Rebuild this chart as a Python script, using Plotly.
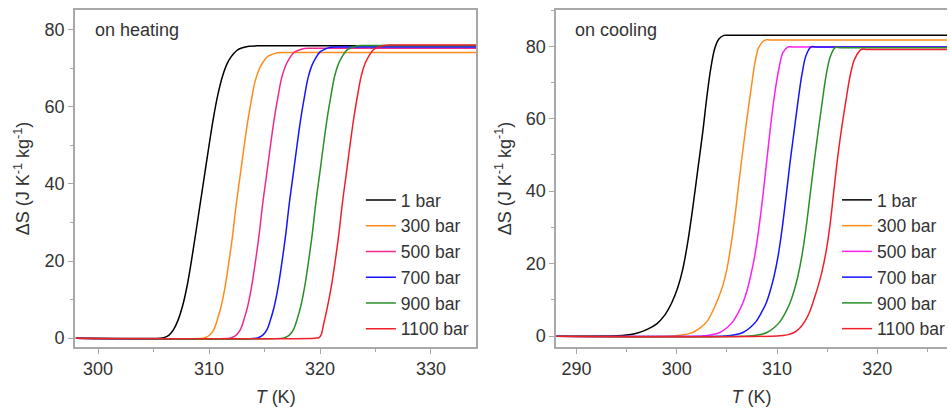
import plotly.graph_objects as go

# ---------------- data ----------------
labels = ["1 bar", "300 bar", "500 bar", "700 bar", "900 bar", "1100 bar"]
heat_colors = ["#000000", "#ff8c1a", "#f0288c", "#1414ff", "#2a8f2a", "#f0202a"]
cool_colors = ["#000000", "#ff8c1a", "#ff22ee", "#1414ff", "#2a8f2a", "#f0202a"]

# ---- on heating: T (K) and Delta S (J K-1 kg-1) ----
T_h_1 = [298, 305.6, 306.0, 306.4, 306.8, 307.2, 307.6, 308.0, 308.4, 308.8, 309.2, 309.6, 310.0, 310.4,
         310.8, 311.2, 311.6, 312.0, 312.5, 313.0, 313.6, 314.3, 315.0, 334.5]
S_h_1 = [0, 0, 0.2, 0.8, 2.2, 4.6, 8.2, 13.2, 19.8, 27.2, 34.8, 42.4, 50.0, 57.2,
         63.2, 67.8, 71.0, 73.0, 74.6, 75.3, 75.7, 75.8, 75.8, 75.8]
T_h_300 = [298, 309.42, 309.72, 310.07, 310.42, 310.72, 311.07, 311.42, 311.77, 312.12, 312.42, 312.77, 313.12,
           313.47, 313.82, 314.12, 314.47, 314.82, 315.22, 315.67, 316.17, 316.77, 317.37, 334.5]
S_h_300 = [0, 0, 0.22, 0.82, 2.15, 4.52, 8.0, 12.89, 19.34, 26.6, 34.01, 41.42, 48.91,
           55.95, 61.8, 66.25, 69.43, 71.36, 72.91, 73.58, 74.03, 74.1, 74.1, 74.1]
T_h_500 = [298, 311.82, 312.12, 312.47, 312.82, 313.12, 313.47, 313.82, 314.17, 314.52, 314.82, 315.17, 315.52,
           315.87, 316.22, 316.52, 316.87, 317.22, 317.62, 318.07, 318.57, 319.17, 319.77, 334.5]
S_h_500 = [0, 0, 0.23, 0.83, 2.18, 4.59, 8.12, 13.08, 19.63, 27.0, 34.52, 42.04, 49.63,
           56.78, 62.72, 67.23, 70.46, 72.42, 74.0, 74.67, 75.12, 75.2, 75.2, 75.2]
T_h_700 = [298, 314.22, 314.52, 314.87, 315.22, 315.52, 315.87, 316.22, 316.57, 316.92, 317.22, 317.57, 317.92,
           318.27, 318.62, 318.92, 319.27, 319.62, 320.02, 320.47, 320.97, 321.57, 322.17, 334.5]
S_h_700 = [0, 0, 0.23, 0.83, 2.19, 4.61, 8.15, 13.14, 19.71, 27.1, 34.65, 42.2, 49.83,
           57.0, 62.97, 67.5, 70.74, 72.71, 74.29, 74.97, 75.42, 75.5, 75.5, 75.5]
T_h_900 = [298, 316.61, 316.91, 317.26, 317.61, 317.91, 318.26, 318.61, 318.96, 319.31, 319.61, 319.96, 320.31,
           320.66, 321.01, 321.31, 321.66, 322.01, 322.41, 322.86, 323.36, 323.96, 324.56, 334.5]
S_h_900 = [0, 0, 0.23, 0.83, 2.2, 4.63, 8.2, 13.21, 19.81, 27.25, 34.84, 42.43, 50.09,
           57.3, 63.3, 67.85, 71.12, 73.09, 74.69, 75.37, 75.82, 75.9, 75.9, 75.9]
T_h_1100 = [298, 319.5, 319.91, 320.11, 320.31, 320.66, 321.01, 321.36, 321.71, 322.01, 322.36, 322.71, 323.06,
            323.41, 323.71, 324.06, 324.41, 324.81, 325.26, 325.76, 326.36, 326.96, 334.5]
S_h_1100 = [0, 0, 0.15, 0.91, 3.42, 7.98, 13.22, 19.84, 27.28, 34.88, 42.48, 50.16, 57.38,
            63.38, 67.94, 71.21, 73.19, 74.78, 75.47, 75.92, 76.0, 76.0, 76.0]

# ---- on cooling ----
T_c_1 = [288, 294.0, 295.0, 296.0, 297.0, 298.0, 298.8, 299.5, 300.1, 300.6, 301.1, 301.6, 302.1,
         302.6, 303.0, 303.4, 303.8, 304.2, 304.7, 305.3, 327.5]
S_c_1 = [0, 0.1, 0.3, 0.8, 1.8, 3.4, 5.8, 9.2, 13.4, 18.5, 26.0, 35.5, 46.0,
         56.5, 66.0, 74.0, 79.5, 82.0, 83.0, 83.0, 83.0]
T_c_300 = [288, 299.5, 300.5, 301.5, 302.3, 303.0, 303.6, 304.1, 304.6, 305.0, 305.4, 305.8, 306.2,
           306.6, 307.0, 307.4, 307.8, 308.2, 308.8, 309.4, 327.5]
S_c_300 = [0, 0.05, 0.3, 0.9, 2.2, 4.0, 7.0, 10.2, 14.0, 18.5, 25.0, 33.0, 42.5,
           51.5, 60.0, 68.0, 75.5, 79.8, 81.7, 81.7, 81.7]
T_c_500 = [288, 302.5, 303.5, 304.3, 305.0, 305.6, 306.1, 306.6, 307.0, 307.4, 307.8, 308.2, 308.6,
           309.0, 309.4, 309.8, 310.2, 310.6, 311.1, 311.7, 327.5]
S_c_500 = [0, 0.05, 0.35, 1.0, 2.3, 4.0, 6.3, 9.2, 12.5, 17.0, 22.5, 30.0, 39.0,
           49.0, 59.0, 67.5, 74.0, 78.3, 79.8, 79.8, 79.8]
T_c_700 = [288, 304.8, 305.8, 306.6, 307.3, 307.9, 308.4, 308.9, 309.3, 309.7, 310.1, 310.5, 310.9,
           311.3, 311.7, 312.1, 312.5, 312.9, 313.4, 314.0, 327.5]
S_c_700 = [0, 0.05, 0.35, 1.0, 2.3, 4.0, 6.3, 9.0, 12.3, 16.5, 22.0, 29.5, 38.5,
           48.0, 56.5, 65.0, 72.5, 77.5, 79.8, 79.8, 79.8]
T_c_900 = [288, 307.2, 308.2, 309.0, 309.7, 310.3, 310.8, 311.3, 311.7, 312.1, 312.5, 312.9, 313.3,
           313.7, 314.1, 314.5, 314.9, 315.3, 315.8, 316.4, 327.5]
S_c_900 = [0, 0.05, 0.35, 1.0, 2.3, 4.0, 6.3, 9.2, 12.5, 16.8, 22.5, 30.0, 39.0,
           48.0, 56.5, 64.5, 72.0, 77.0, 79.6, 79.6, 79.6]
T_c_1100 = [288, 310.0, 311.0, 311.7, 312.3, 312.8, 313.3, 313.7, 314.1, 314.5, 314.9, 315.3, 315.7,
            316.1, 316.5, 316.9, 317.3, 317.75, 318.4, 319.0, 327.5]
S_c_1100 = [0, 0.05, 0.35, 1.0, 2.3, 4.2, 7.0, 10.3, 13.8, 18.0, 23.5, 31.0, 41.0,
            50.5, 58.5, 65.5, 72.0, 76.5, 79.1, 79.1, 79.1]

x_ticks_heat = [300, 310, 320, 330]
x_ticks_cool = [290, 300, 310, 320]
y_ticks_heat = [0, 20, 40, 60, 80]
y_ticks_cool = [0, 20, 40, 60, 80]

heat_T = [T_h_1, T_h_300, T_h_500, T_h_700, T_h_900, T_h_1100]
heat_S = [S_h_1, S_h_300, S_h_500, S_h_700, S_h_900, S_h_1100]
cool_T = [T_c_1, T_c_300, T_c_500, T_c_700, T_c_900, T_c_1100]
cool_S = [S_c_1, S_c_300, S_c_500, S_c_700, S_c_900, S_c_1100]

# ---------------- figure ----------------
FONT = "Liberation Sans, Arial, sans-serif"
TXT = "#333333"
AX = "#a8a8a8"
W, H = 950, 410
MT, MB = 10, 63
PH = H - MT - MB  # plot-area height (paper coords live inside the margins)


def py2paper(py):
    return 1 - (py - MT) / PH


fig = go.Figure()
for i, lab in enumerate(labels):
    fig.add_trace(go.Scatter(
        x=heat_T[i], y=heat_S[i], mode="lines", name=lab,
        line=dict(color=heat_colors[i], width=1.5, shape="spline", smoothing=1.0),
        xaxis="x", yaxis="y", legend="legend"))
for i, lab in enumerate(labels):
    fig.add_trace(go.Scatter(
        x=cool_T[i], y=cool_S[i], mode="lines", name=lab,
        line=dict(color=cool_colors[i], width=1.5, shape="spline", smoothing=1.0),
        xaxis="x2", yaxis="y2", legend="legend2"))

common_x = dict(
    showline=True, linecolor=AX, linewidth=1.5, mirror=True,
    ticks="outside", ticklen=5, tickwidth=1, tickcolor=AX,
    tickfont=dict(size=18, color=TXT, family=FONT),
    showgrid=False, zeroline=False,
    minor=dict(ticks="outside", ticklen=3, tickcolor=AX, dtick=5, showgrid=False),
    title=dict(text="<i>T</i> (K)", font=dict(size=18, color=TXT, family=FONT), standoff=12),
)
common_y = dict(
    showline=True, linecolor=AX, linewidth=1.5,
    ticks="outside", ticklen=5, tickwidth=1, tickcolor=AX,
    tickfont=dict(size=18, color=TXT, family=FONT),
    showgrid=False, zeroline=False,
    minor=dict(ticks="outside", ticklen=3, tickcolor=AX, dtick=10, showgrid=False),
    title=dict(text="ΔS (J K<sup>-1</sup> kg<sup>-1</sup>)", font=dict(size=18, color=TXT, family=FONT), standoff=10),
)

legend_common = dict(bgcolor="rgba(0,0,0,0)", font=dict(size=17.5, color=TXT, family=FONT),
                     tracegroupgap=0, itemwidth=30, xanchor="left", yanchor="top",
                     y=py2paper(182))

fig.update_layout(
    width=W, height=H,
    margin=dict(l=0, r=0, t=MT, b=MB),
    paper_bgcolor="white", plot_bgcolor="white",
    font=dict(family=FONT, size=18, color=TXT),
    xaxis=dict(common_x, domain=[75 / W, 478 / W], range=[297.9, 334.1],
               tickvals=x_ticks_heat, anchor="y"),
    yaxis=dict(common_y, domain=[0, 1], range=[-2.3, 85.1],
               tickvals=y_ticks_heat, mirror=True, anchor="x"),
    xaxis2=dict(common_x, domain=[558 / W, 1.0], range=[287.98, 326.95],
                tickvals=x_ticks_cool, anchor="y2"),
    yaxis2=dict(common_y, domain=[0, 1], range=[-3.0, 90.0],
                tickvals=y_ticks_cool, mirror=False, anchor="x2"),
    legend=dict(legend_common, x=362 / W),
    legend2=dict(legend_common, x=840 / W),
    showlegend=True,
    annotations=[
        dict(text="on heating", x=93 / W, y=py2paper(30), xref="paper", yref="paper",
             xanchor="left", yanchor="middle", showarrow=False,
             font=dict(size=18, color=TXT, family=FONT)),
        dict(text="on cooling", x=575 / W, y=py2paper(30), xref="paper", yref="paper",
             xanchor="left", yanchor="middle", showarrow=False,
             font=dict(size=18, color=TXT, family=FONT)),
    ],
)

fig.write_html("out.html")
